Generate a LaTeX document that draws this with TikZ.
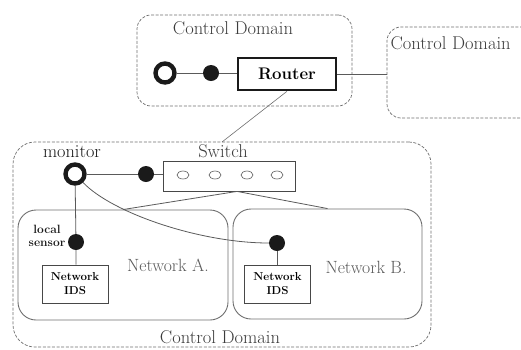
\documentclass[tikz,border=0pt]{standalone}
\usetikzlibrary{positioning,fit,calc,shapes.geometric}
\definecolor{ink}{HTML}{1A1A1A}
\definecolor{haze}{HTML}{5A5A5A}
\definecolor{rule}{HTML}{6E6E6E}
\definecolor{slate}{HTML}{3C3C3C}

\begin{document}
\begin{tikzpicture}[x=1pt, y=-1pt,
  ctlbox/.style={draw=rule, dash pattern=on 3pt off 1.6pt, rounded corners=14pt, inner sep=0pt, line width=0.7pt},
  netbox/.style={draw=rule, rounded corners=18pt, inner sep=0pt, line width=0.9pt},
  idsbox/.style={draw=ink!80, line width=0.8pt, minimum width=66pt, minimum height=38pt, inner sep=0pt, align=center, font=\fontsize{11.5}{14}\selectfont\bfseries},
  ringnode/.style={circle, draw=ink, line width=4.4pt, fill=white, minimum size=19pt, inner sep=0pt},
  dotnode/.style={circle, fill=ink, minimum size=16pt, inner sep=0pt},
  port/.style={ellipse, draw=haze, line width=0.6pt, minimum width=12pt, minimum height=8pt, inner sep=0pt},
  wire/.style={draw=haze, line width=0.8pt},
  domtext/.style={font=\fontsize{18.5}{21}\selectfont, text=slate},
  nettext/.style={font=\fontsize{17.7}{21}\selectfont, text=haze},
  tag/.style={font=\fontsize{12}{13}\selectfont\bfseries, text=ink, align=center}
]
  \useasboundingbox (0,0) rectangle (521,349);

  % upper control domains
  \node[ctlbox, fit={(137,15) (352,106)}] (ctltop) {};
  \node[domtext] (ctltoplbl) at (233,28) {Control Domain};
  \node[ctlbox, fit={(387,27) (560,118)}] (ctlright) {};
  \node[domtext, anchor=west] (ctlrightlbl) at (387,43) {Control Domain};

  \node[ringnode] (gwring) at (165,73) {};
  \node[dotnode] (gwdot) at (211,73) {};
  \node[draw=ink, line width=2.6pt, minimum width=98pt, minimum height=32pt, inner sep=0pt,
        font=\fontsize{16.8}{20}\selectfont\bfseries] (router) at (287,74) {Router};

  % lower control domain
  \node[ctlbox, rounded corners=22pt, fit={(13,142) (431,347)}] (ctlbot) {};
  \node[domtext] (ctlbotlbl) at (220,337) {Control Domain};
  \coordinate (uplink) at (222,142);

  \node[font=\fontsize{18.3}{21}\selectfont, text=ink] (monlbl) at (72,152) {monitor};
  \node[ringnode] (monring) at (75,174) {};
  \node[dotnode] (mondot) at (146,174) {};

  \node[draw=ink!80, line width=0.8pt, minimum width=132pt, minimum height=30pt, inner sep=0pt] (switch) at (229,176) {};
  \node[domtext] (switchlbl) at (223,151) {Switch};
  \foreach \px [count=\i] in {183,215,247,277}
    \node[port] (port\i) at (\px,175) {};

  \node[netbox, fit={(18,210) (228,320)}] (netA) {};
  \node[netbox, fit={(233,209) (422,319)}] (netB) {};
  \node[nettext] (netAlbl) at (168,265) {Network A.};
  \node[nettext] (netBlbl) at (366,267) {Network B.};

  \node[dotnode] (sensA) at (76,242) {};
  \node[tag] (sensAlbl) at (47,236) {local\\sensor};
  \node[idsbox] (idsA) at (75,284) {Network\\IDS};
  \node[dotnode] (sensB) at (277,243) {};
  \node[idsbox] (idsB) at (277.5,284) {Network\\IDS};

  % links
  \draw[wire] (gwring) -- (gwdot) -- (gwdot -| router.west);
  \draw[wire] (router.east) -- (router.east -| ctlright.west);
  \draw[wire, draw=rule, line width=0.6pt] (router.south) -- (uplink);
  \draw[wire] (monring) -- (mondot) -- (mondot -| switch.west);
  \draw[wire] (monring) -- (sensA) -- (sensA |- idsA.north);
  \draw[wire] (sensB) -- (sensB |- idsB.north);
  \draw[wire] (monring) .. controls (112,213) and (200,243) .. (sensB);
  \draw[wire] (netA.north) -- ([xshift=8pt]switch.south) -- (netB.north);
\end{tikzpicture}
\end{document}
